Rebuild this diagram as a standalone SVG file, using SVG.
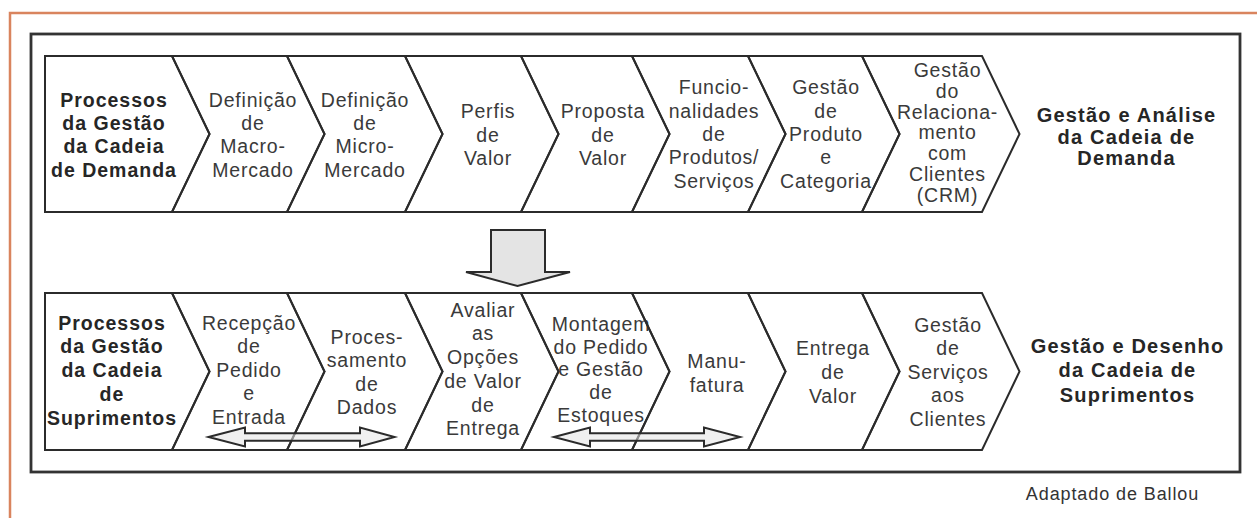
<svg xmlns="http://www.w3.org/2000/svg" width="1257" height="518" viewBox="0 0 1257 518">
<style>
.chev{fill:none;stroke:#2b2b2b;stroke-width:2;stroke-linejoin:miter}
.t{font-family:"Liberation Sans",Arial,sans-serif;font-size:19.5px;letter-spacing:0.8px;fill:#3a3a3a;text-anchor:middle}
.b{font-family:"Liberation Sans",Arial,sans-serif;font-size:19.5px;font-weight:bold;letter-spacing:1px;fill:#262626;text-anchor:middle}
.r{font-family:"Liberation Sans",Arial,sans-serif;font-size:20px;font-weight:bold;letter-spacing:1.2px;fill:#262626;text-anchor:middle}
.cap{font-family:"Liberation Sans",Arial,sans-serif;font-size:18px;letter-spacing:0.9px;fill:#333;text-anchor:middle}
.blk{fill:#e4e4e4;stroke:#2b2b2b;stroke-width:2;stroke-linejoin:miter}
.dbl{fill:#e4e4e4;fill-opacity:0.55;stroke:#2b2b2b;stroke-width:2;stroke-linejoin:miter}
</style>
<rect x="0" y="0" width="1257" height="518" fill="#ffffff"/>
<path d="M10,518 V13 H1257" fill="none" stroke="#d9845e" stroke-width="2.5"/>
<rect x="31" y="34" width="1209" height="438" fill="none" stroke="#333" stroke-width="2.8"/>

<g id="demanda-row">
<g id="d1"><polygon class="chev" points="45,56 172,56 209.5,134 172,212 45,212"/>
<text class="b"><tspan x="114" y="106.7">Processos</tspan><tspan x="114" y="130">da Gestão</tspan><tspan x="114" y="153.3">da Cadeia</tspan><tspan x="114" y="176.7">de Demanda</tspan></text></g>
<g id="d2"><polygon class="chev" points="172,56 287,56 324.5,134 287,212 172,212 209.5,134"/>
<text class="t"><tspan x="253" y="106.7">Definição</tspan><tspan x="253" y="130">de</tspan><tspan x="253" y="153.3">Macro-</tspan><tspan x="253" y="176.7">Mercado</tspan></text></g>
<g id="d3"><polygon class="chev" points="287,56 405,56 442.5,134 405,212 287,212 324.5,134"/>
<text class="t"><tspan x="365" y="106.7">Definição</tspan><tspan x="365" y="130">de</tspan><tspan x="365" y="153.3">Micro-</tspan><tspan x="365" y="176.7">Mercado</tspan></text></g>
<g id="d4"><polygon class="chev" points="405,56 521,56 558.5,134 521,212 405,212 442.5,134"/>
<text class="t"><tspan x="488" y="118">Perfis</tspan><tspan x="488" y="141.5">de</tspan><tspan x="488" y="165">Valor</tspan></text></g>
<g id="d5"><polygon class="chev" points="521,56 632,56 669.5,134 632,212 521,212 558.5,134"/>
<text class="t"><tspan x="603" y="118">Proposta</tspan><tspan x="603" y="141.5">de</tspan><tspan x="603" y="165">Valor</tspan></text></g>
<g id="d6"><polygon class="chev" points="632,56 748,56 785.5,134 748,212 632,212 669.5,134"/>
<text class="t"><tspan x="714" y="94.2">Funcio-</tspan><tspan x="714" y="117.6">nalidades</tspan><tspan x="714" y="141">de</tspan><tspan x="714" y="164.4">Produtos/</tspan><tspan x="714" y="187.8">Serviços</tspan></text></g>
<g id="d7"><polygon class="chev" points="748,56 862,56 899.5,134 862,212 748,212 785.5,134"/>
<text class="t"><tspan x="826" y="94.2">Gestão</tspan><tspan x="826" y="117.6">de</tspan><tspan x="826" y="141">Produto</tspan><tspan x="826" y="164.4">e</tspan><tspan x="826" y="187.8">Categoria</tspan></text></g>
<g id="d8"><polygon class="chev" points="862,56 982,56 1019.5,134 982,212 862,212 899.5,134"/>
<text class="t"><tspan x="947.5" y="77">Gestão</tspan><tspan x="947.5" y="97.8">do</tspan><tspan x="947.5" y="118.6">Relaciona-</tspan><tspan x="947.5" y="139.4">mento</tspan><tspan x="947.5" y="160.2">com</tspan><tspan x="947.5" y="181">Clientes</tspan><tspan x="947.5" y="201.8">(CRM)</tspan></text></g>
<g id="d-label"><text class="r"><tspan x="1126.5" y="121.7">Gestão e Análise</tspan><tspan x="1126.5" y="143.5">da Cadeia de</tspan><tspan x="1126.5" y="165.3">Demanda</tspan></text></g>
</g>

<g id="suprimentos-row">
<g id="s1"><polygon class="chev" points="45,293 172,293 209.5,371.5 172,450 45,450"/>
<text class="b"><tspan x="112" y="329.5">Processos</tspan><tspan x="112" y="353.3">da Gestão</tspan><tspan x="112" y="377.1">da Cadeia</tspan><tspan x="112" y="400.9">de</tspan><tspan x="112" y="424.7">Suprimentos</tspan></text></g>
<g id="s2"><polygon class="chev" points="172,293 287,293 324.5,371.5 287,450 172,450 209.5,371.5"/>
<text class="t"><tspan x="249" y="329.5">Recepção</tspan><tspan x="249" y="353">de</tspan><tspan x="249" y="376.5">Pedido</tspan><tspan x="249" y="400">e</tspan><tspan x="249" y="423.5">Entrada</tspan></text></g>
<g id="s3"><polygon class="chev" points="287,293 405,293 442.5,371.5 405,450 287,450 324.5,371.5"/>
<text class="t"><tspan x="367" y="343.5">Proces-</tspan><tspan x="367" y="367">samento</tspan><tspan x="367" y="390.5">de</tspan><tspan x="367" y="414">Dados</tspan></text></g>
<g id="s4"><polygon class="chev" points="405,293 521,293 558.5,371.5 521,450 405,450 442.5,371.5"/>
<text class="t"><tspan x="483" y="316.7">Avaliar</tspan><tspan x="483" y="340.4">as</tspan><tspan x="483" y="364.1">Opções</tspan><tspan x="483" y="387.8">de Valor</tspan><tspan x="483" y="411.5">de</tspan><tspan x="483" y="435.2">Entrega</tspan></text></g>
<g id="s5"><polygon class="chev" points="521,293 632,293 669.5,371.5 632,450 521,450 558.5,371.5"/>
<text class="t"><tspan x="601" y="331">Montagem</tspan><tspan x="601" y="353.7">do Pedido</tspan><tspan x="601" y="376.4">e Gestão</tspan><tspan x="601" y="399.1">de</tspan><tspan x="601" y="421.8">Estoques</tspan></text></g>
<g id="s6"><polygon class="chev" points="632,293 748,293 785.5,371.5 748,450 632,450 669.5,371.5"/>
<text class="t"><tspan x="717" y="368.3">Manu-</tspan><tspan x="717" y="391.7">fatura</tspan></text></g>
<g id="s7"><polygon class="chev" points="748,293 862,293 899.5,371.5 862,450 748,450 785.5,371.5"/>
<text class="t"><tspan x="833" y="355">Entrega</tspan><tspan x="833" y="379">de</tspan><tspan x="833" y="403">Valor</tspan></text></g>
<g id="s8"><polygon class="chev" points="862,293 982,293 1019.5,371.5 982,450 862,450 899.5,371.5"/>
<text class="t"><tspan x="948" y="331.5">Gestão</tspan><tspan x="948" y="355">de</tspan><tspan x="948" y="378.5">Serviços</tspan><tspan x="948" y="402">aos</tspan><tspan x="948" y="425.5">Clientes</tspan></text></g>
<g id="s-label"><text class="r"><tspan x="1127.5" y="352.5">Gestão e Desenho</tspan><tspan x="1127.5" y="377">da Cadeia de</tspan><tspan x="1127.5" y="401.5">Suprimentos</tspan></text></g>
</g>

<g id="connectors">
<polygon class="blk" points="491,230 545,230 545,272 570,272 517.5,286 466,272 491,272"/>
<polygon class="dbl" points="208.5,437 245,427.5 245,433.3 360,433.3 360,427.5 394.5,437 360,446.5 360,440.7 245,440.7 245,446.5"/>
<polygon class="dbl" points="554,437 590,427.5 590,433.3 704,433.3 704,427.5 740,437 704,446.5 704,440.7 590,440.7 590,446.5"/>
</g>

<text class="cap" x="1112.5" y="500">Adaptado de Ballou</text>
</svg>
